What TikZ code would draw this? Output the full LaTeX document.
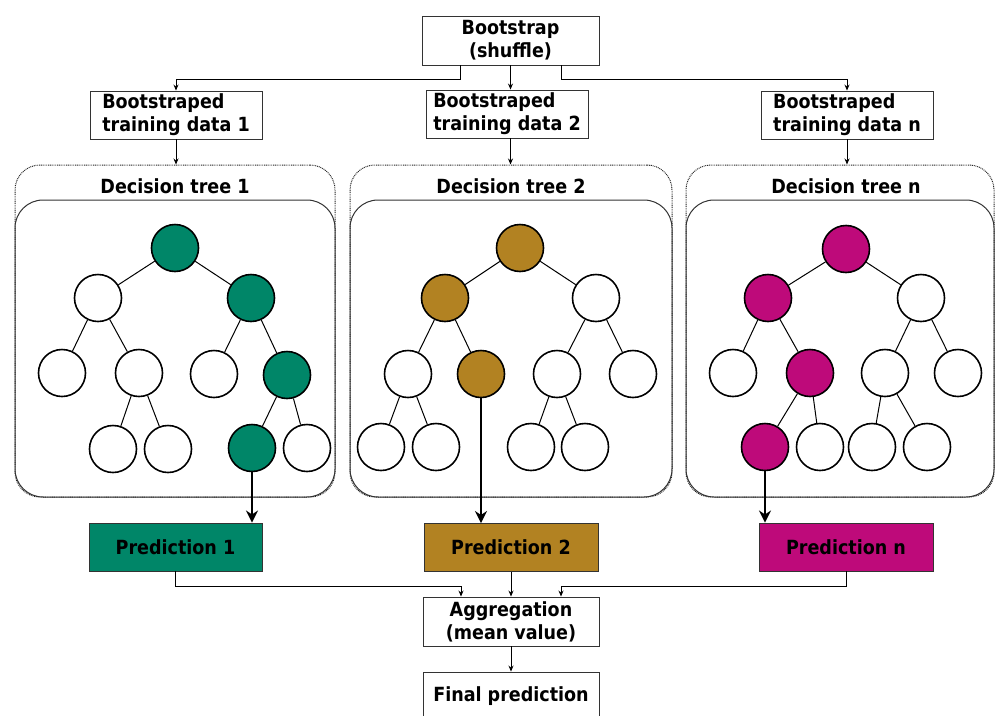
\documentclass[tikz,border=0pt]{standalone}
\usepackage{fontspec}
\setmainfont{DejaVu Sans Condensed}
\usetikzlibrary{arrows.meta}

\definecolor{treegreen}{RGB}{0,134,104}
\definecolor{treegold}{RGB}{178,130,34}
\definecolor{treepink}{RGB}{190,10,122}

\tikzset{
  txtbox/.style={draw=black!80, line width=0.9pt, fill=white, inner sep=0pt,
    font=\bfseries\fontsize{19.5}{23}\selectfont},
  databox/.style={txtbox, align=left, minimum height=48pt},
  predbox/.style={txtbox, minimum width=174pt, minimum height=48pt},
  outerbox/.style={draw=black!85, line width=1pt, dash pattern=on 0.9pt off 0.9pt,
    rounded corners=25pt, inner sep=0pt},
  innerbox/.style={draw=black!80, line width=1pt, rounded corners=28pt, inner sep=0pt},
  leaf/.style={circle, draw=black, line width=1.6pt, fill=white,
    minimum size=47pt, inner sep=0pt},
  edge/.style={line width=1pt},
  conn/.style={-{Stealth[length=6pt,width=5pt]}, line width=0.8pt},
  bigarrow/.style={-{Stealth[length=12pt,width=12pt]}, line width=2.9pt},
  title/.style={font=\bfseries\fontsize{19.5}{23}\selectfont}
}

\begin{document}
\begin{tikzpicture}[x=1pt, y=-1pt]
  \useasboundingbox (0,0) rectangle (995,715);

  % Bootstrap and the three data sets
  \node[txtbox, align=center, minimum width=177pt, minimum height=49pt] (boot) at (510.5,40.5) {Bootstrap\\(shuffle)};
  \node[databox, minimum width=172pt] (data1) at (176,115) {Bootstraped\\training data 1};
  \node[databox, minimum width=162pt] (data2) at (507,114) {Bootstraped\\training data 2};
  \node[databox, minimum width=172pt] (datan) at (847,115) {Bootstraped\\training data n};

  \draw[conn] ([xshift=-50pt]boot.south) |- ++(0,14) -| (data1.north);
  \draw[conn] (boot.south) -- (boot.south |- data2.north);
  \draw[conn] ([xshift=51pt]boot.south) |- ++(0,14) -| (datan.north);

  % Frames of the trees
  \node[outerbox, minimum width=320pt, minimum height=332pt] (box1) at (175,331) {};
  \node[innerbox, minimum width=320pt, minimum height=297pt] (frame1) at (175,348.5) {};
  \node[outerbox, minimum width=322pt, minimum height=332pt] (box2) at (511,331) {};
  \node[innerbox, minimum width=322pt, minimum height=297pt] (frame2) at (511,348.5) {};
  \node[outerbox, minimum width=308pt, minimum height=332pt] (boxn) at (840,331) {};
  \node[innerbox, minimum width=308pt, minimum height=297pt] (framen) at (840,348.5) {};

  \node[title] (title1) at (175,186) {Decision tree 1};
  \node[title] (title2) at (511,186) {Decision tree 2};
  \node[title] (titlen) at (846,186) {Decision tree n};

  \draw[conn] (data1.south) -- (data1.south |- box1.north);
  \draw[conn] (data2.south -| boot.south) -- (boot.south |- box2.north);
  \draw[conn] (datan.south) -- (datan.south |- boxn.north);

  % Decision tree 1
  \node[leaf, fill=treegreen] (t1r) at (175,248) {};
  \node[leaf] (t1a) at (98,298) {};
  \node[leaf, fill=treegreen] (t1b) at (251,298) {};
  \node[leaf] (t1c) at (62,373) {};
  \node[leaf] (t1d) at (139,373) {};
  \node[leaf] (t1e) at (214,374) {};
  \node[leaf, fill=treegreen] (t1f) at (287,375) {};
  \node[leaf] (t1g) at (113,449) {};
  \node[leaf] (t1h) at (168,449) {};
  \node[leaf, fill=treegreen] (t1i) at (252,448) {};
  \node[leaf] (t1j) at (307,448) {};
  \draw[edge] (t1r) -- (t1a) (t1r) -- (t1b) (t1a) -- (t1c) (t1a) -- (t1d)
    (t1d) -- (t1g) (t1d) -- (t1h) (t1b) -- (t1e) (t1b) -- (t1f)
    (t1f) -- (t1i) (t1f) -- (t1j);

  % Decision tree 2
  \node[leaf, fill=treegold] (t2r) at (520,248) {};
  \node[leaf, fill=treegold] (t2a) at (445,298) {};
  \node[leaf] (t2b) at (596,298) {};
  \node[leaf] (t2c) at (408,374) {};
  \node[leaf, fill=treegold] (t2d) at (481,374) {};
  \node[leaf] (t2e) at (557,374) {};
  \node[leaf] (t2f) at (633,374) {};
  \node[leaf] (t2g) at (381,447) {};
  \node[leaf] (t2h) at (436,447) {};
  \node[leaf] (t2i) at (531,447) {};
  \node[leaf] (t2j) at (585,447) {};
  \draw[edge] (t2r) -- (t2a) (t2r) -- (t2b) (t2a) -- (t2c) (t2a) -- (t2d)
    (t2c) -- (t2g) (t2c) -- (t2h) (t2b) -- (t2e) (t2b) -- (t2f)
    (t2e) -- (t2i) (t2e) -- (t2j);

  % Decision tree n
  \node[leaf, fill=treepink] (tnr) at (846,249) {};
  \node[leaf, fill=treepink] (tna) at (768,298) {};
  \node[leaf] (tnb) at (921,298) {};
  \node[leaf] (tnc) at (733,373) {};
  \node[leaf, fill=treepink] (tnd) at (810,373) {};
  \node[leaf] (tne) at (885,373) {};
  \node[leaf] (tnf) at (958,373) {};
  \node[leaf, fill=treepink] (tng) at (765,447) {};
  \node[leaf] (tnh) at (820,447) {};
  \node[leaf] (tni) at (872,447) {};
  \node[leaf] (tnj) at (927,447) {};
  \draw[edge] (tnr) -- (tna) (tnr) -- (tnb) (tna) -- (tnc) (tna) -- (tnd)
    (tnd) -- (tng) (tnd) -- (tnh) (tnb) -- (tne) (tnb) -- (tnf)
    (tne) -- (tni) (tne) -- (tnj);

  % Predictions
  \node[predbox, fill=treegreen, minimum width=173pt] (pred1) at (175.5,547) {Prediction 1};
  \node[predbox, fill=treegold] (pred2) at (511,547.5) {Prediction 2};
  \node[predbox, fill=treepink] (predn) at (846,547) {Prediction n};

  \draw[bigarrow] (t1i.south) -- (t1i.south |- pred1.north);
  \draw[bigarrow] (t2d.south) -- (t2d.south |- pred2.north);
  \draw[bigarrow] (tng.south) -- (tng.south |- predn.north);

  % Aggregation and final prediction
  \node[txtbox, align=center, minimum width=176pt, minimum height=49pt] (agg) at (511,621.5) {Aggregation\\(mean value)};
  \node[txtbox, minimum width=176pt, minimum height=48pt] (final) at (511,696) {Final prediction};

  \draw[conn] (pred1.south) |- ++(0,15) -| ([xshift=-50pt]agg.north);
  \draw[conn] (pred2.south) -- (agg.north);
  \draw[conn] (predn.south) |- ++(0,15) -| ([xshift=50pt]agg.north);
  \draw[conn] (agg.south) -- (final.north);

\end{tikzpicture}
\end{document}
